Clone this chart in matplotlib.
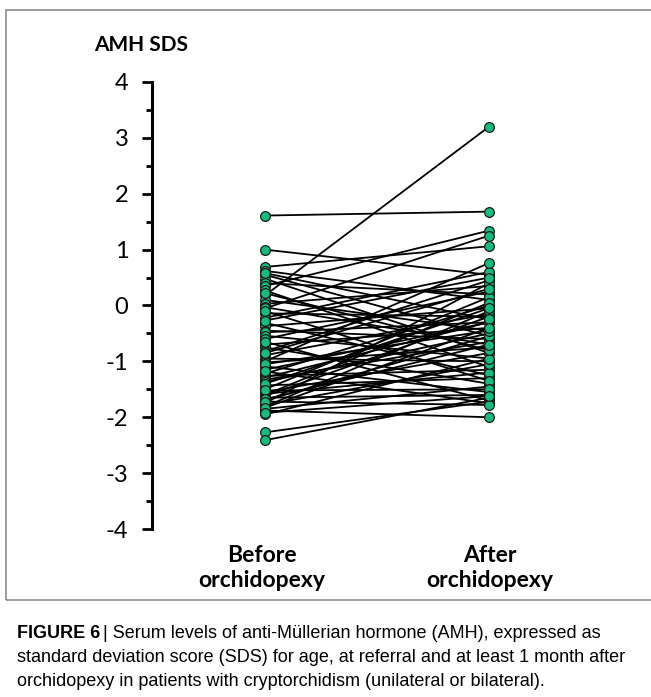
import matplotlib
matplotlib.use("Agg")
import matplotlib.pyplot as plt
from matplotlib.patches import Rectangle
from matplotlib.ticker import MultipleLocator

# AMH SDS per patient, before and after orchidopexy
before = [1.61, 1.00, 0.69, 0.62, 0.55, 0.48, 0.40, 0.35, 0.27, 0.18,
          0.10, 0.03, -0.03, -0.05, -0.14, -0.22, -0.31, -0.37, -0.45, -0.48,
          -0.54, -0.60, -0.70, -0.75, -0.82, -0.89, -0.95, -1.00, -1.02, -1.09,
          -1.15, -1.22, -1.26, -1.29, -1.33, -1.37, -1.43, -1.50, -1.55, -1.58,
          -1.60, -1.62, -1.65, -1.70, -1.75, -1.78, -1.81, -1.85, -1.88, -1.95,
          -2.27, -2.41,
          0.58, 0.22, -0.10, -0.27, -0.65, -0.85, -1.05, -1.18, -1.40, -1.52,
          -1.68, -1.72, -1.83, -1.92]
after = [1.68, 0.55, 1.06, 0.10, -0.55, -0.85, 0.20, 1.34, -1.10, 3.20,
         -0.45, 0.35, -0.70, 1.25, -0.20, 0.60, -1.25, -0.05, -0.60, -0.30,
         -0.95, 0.25, -0.40, -1.40, 0.45, -0.15, -1.00, 0.76, -0.75, -1.55,
         -0.30, 0.00, -1.15, -0.30, -0.65, -0.50, -1.30, 0.15, -0.85, -1.20,
         0.05, -0.20, -1.60, -0.55, 0.40, -1.05, -0.10, -1.45, -2.00, -0.95,
         -1.72, -1.65,
         -0.25, -0.80, -1.35, 0.50, -1.70, 0.30, -0.45, -1.75, -0.05, -1.50,
         -0.70, -1.78, -0.40, -1.62]
groups = ["Before\norchidopexy", "After\norchidopexy"]
yticks = [4, 3, 2, 1, 0, -1, -2, -3, -4]

green = "#1cb87c"
chart_font = ["Lato", "DejaVu Sans"]
cap_font = ["Liberation Sans", "DejaVu Sans"]
W, H = 651, 697
fig = plt.figure(figsize=(W / 100, H / 100), dpi=100)

# frame around the chart panel
fig.patches.append(Rectangle((6 / W, 1 - 600 / H), 1.2, (600 - 10) / H,
                             transform=fig.transFigure, fill=False,
                             edgecolor="#8c8c8c", lw=1.2))

ax = fig.add_axes([152 / W, 1 - 529 / H, (600 - 152) / W, (529 - 82) / H])
ax.set_xlim((152 - 265) / 224, (600 - 265) / 224)
ax.set_ylim(-4, 4)

for b, a in zip(before, after):
    ax.plot([0, 1], [b, a], color="black", lw=1.3, zorder=2,
            marker="o", markersize=7, markerfacecolor=green,
            markeredgecolor="#1a1a1a", markeredgewidth=0.9, clip_on=False)

for s in ["top", "right", "bottom"]:
    ax.spines[s].set_visible(False)
ax.spines["left"].set_linewidth(2.2)
ax.set_xticks([])
ax.set_yticks(yticks)
ax.set_yticklabels([str(t) for t in yticks])
ax.yaxis.set_minor_locator(MultipleLocator(0.5))
ax.tick_params(axis="y", which="major", length=7, width=2, pad=10,
               labelsize=17)
ax.tick_params(axis="y", which="minor", length=4, width=2)
for lab in ax.get_yticklabels():
    lab.set_family(chart_font)

fig.text(141 / W, 1 - 45 / H, "AMH SDS", ha="center", va="center",
         fontsize=15, fontweight="bold", family=chart_font)
for x, g in zip([262, 490], groups):
    fig.text(x / W, 1 - 568 / H, g, ha="center", va="center", fontsize=16.5,
             fontweight="bold", linespacing=1.2, family=chart_font)

# caption: bold label followed by the text
t1 = fig.text(17 / W, 1 - 633 / H, "FIGURE 6", ha="left", va="center",
              fontsize=13, fontweight="bold", family=cap_font)
fig.canvas.draw()
bb = t1.get_window_extent()
fig.text((bb.x1 + 3) / W, 1 - 633 / H,
         "| Serum levels of anti-Müllerian hormone (AMH), expressed as",
         ha="left", va="center", fontsize=13, family=cap_font)
fig.text(17 / W, 1 - 657 / H,
         "standard deviation score (SDS) for age, at referral and at least 1 month after",
         ha="left", va="center", fontsize=13, family=cap_font)
fig.text(17 / W, 1 - 681 / H,
         "orchidopexy in patients with cryptorchidism (unilateral or bilateral).",
         ha="left", va="center", fontsize=13, family=cap_font)

fig.savefig("out.png", dpi=100)
